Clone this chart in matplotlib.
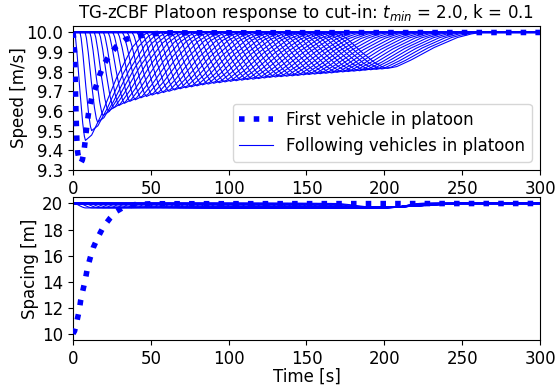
import numpy as np
import matplotlib
matplotlib.use("Agg")
from matplotlib import pyplot as plt

plt.rcParams["font.size"] = 12

# first vehicle (the one that cut in)
lead_t = [0, 0.5, 1, 1.5, 2, 2.5, 3, 4, 5, 6, 7, 8, 9, 10, 12, 15, 17, 20, 24, 28, 34, 41, 50, 60, 300]
lead_speed = [10, 9.97, 9.9, 9.74, 9.57, 9.45, 9.39, 9.345, 9.335, 9.35, 9.39, 9.46, 9.53, 9.59,
              9.665, 9.73, 9.78, 9.84, 9.89, 9.93, 9.965, 9.98, 9.992, 9.998, 10]
lead_gap_t = [0, 1, 2.6, 4, 5, 6.5, 8, 9.2, 11, 13, 16, 19.5, 24, 28, 33, 40, 50, 300]
lead_gap = [10, 10.2, 11.0, 11.8, 12.6, 13.4, 14.2, 15.0, 15.8, 16.6, 17.4, 18.2, 18.9, 19.4, 19.75,
            19.92, 19.98, 20]

# following vehicles: bottom of each speed dip
dip_time = [8, 12, 15.8, 19.3, 22.7, 26.1, 29.5, 33, 36.5, 40, 43.6, 47.2, 50.8, 54.4, 58, 61.6,
            65.2, 68.8, 72.4, 76, 79.6, 83.2, 86.8, 90.4, 94, 97.6, 101.2, 104.8, 108.4, 112, 115.6,
            119.2, 122.8, 126.4, 130, 133.6, 137.2, 140.8, 144.4, 148, 151.6, 155.2, 158.8, 162.4,
            166, 169.6, 173.2, 176.8, 180.4, 184, 187.6, 191.2, 194.8, 198.4, 202]
dip_speed = [9.45, 9.50, 9.543, 9.577, 9.60, 9.616, 9.628, 9.639, 9.649, 9.657, 9.667, 9.674, 9.681,
             9.687, 9.694, 9.70, 9.707, 9.713, 9.718, 9.723, 9.728, 9.733, 9.737, 9.741, 9.744,
             9.748, 9.751, 9.754, 9.757, 9.76, 9.762, 9.765, 9.768, 9.771, 9.773, 9.775, 9.777,
             9.779, 9.781, 9.784, 9.786, 9.788, 9.79, 9.792, 9.794, 9.797, 9.799, 9.801, 9.803,
             9.805, 9.808, 9.81, 9.812, 9.814, 9.817]
# time each follower leaves 10 m/s and time it is back at 10 m/s
brake_start = [1, 4.5, 7.8, 10.8, 13.7, 16.7, 19.6, 22.6, 25.6, 28.7, 31.8, 34.9, 38, 41.2, 44.3,
               47.4, 50.5, 53.6, 56.8, 59.9, 63, 66.1, 69.2, 72.4, 75.5, 78.6, 81.7, 84.8, 88, 91.1,
               94.2, 97.3, 100.4, 103.6, 106.7, 109.8, 112.9, 116, 119.2, 122.3, 125.4, 128.5,
               131.6, 134.8, 137.9, 141, 144.1, 147.2, 150.4, 153.5, 156.6, 159.7, 162.8, 166, 169]
recover_end = [48, 52.4, 56.5, 60.4, 64.2, 68, 71.7, 75.6, 79.5, 83.3, 87.3, 91.3, 95.2, 99.2,
               103.2, 107.2, 111.1, 115.1, 119.1, 123, 127, 131, 135, 138.9, 142.9, 146.9, 150.8,
               154.8, 158.8, 162.7, 166.7, 170.7, 174.6, 178.6, 182.6, 186.6, 190.5, 194.5, 198.5,
               202.4, 206.4, 210.4, 214.3, 218.3, 222.3, 226.3, 230.2, 234.2, 238.2, 242.1, 246.1,
               250.1, 254, 258, 262]

# common dip shape: share of the depth reached at a share of the fall / rise
fall_share = [0, 0.1, 0.25, 0.5, 0.75, 0.9, 1]
fall_depth = [0, 0.06, 0.22, 0.55, 0.84, 0.96, 1]
rise_share = [0, 0.1, 0.25, 0.5, 0.75, 0.9, 1]
rise_depth = [1, 0.95, 0.77, 0.42, 0.14, 0.04, 0]

# following vehicles: spacing (lowest value, hold level before recovery, time back at 20 m)
gap_low = [19.66, 19.67, 19.68, 19.68, 19.69, 19.69, 19.7, 19.7, 19.7, 19.7, 19.7, 19.69, 19.69,
           19.69, 19.68, 19.68, 19.68, 19.67, 19.67, 19.67, 19.66, 19.66, 19.66, 19.66, 19.65,
           19.65, 19.65, 19.65, 19.65, 19.64, 19.64, 19.64, 19.64, 19.64, 19.64, 19.63, 19.63,
           19.63, 19.63, 19.63, 19.63, 19.63, 19.63, 19.62, 19.62, 19.62, 19.62, 19.62, 19.62,
           19.62, 19.62, 19.62, 19.62, 19.62, 19.62]
gap_hold = 19.72
gap_hold_t = 208
gap_end = [222, 222.5, 223, 223.5, 224, 224.5, 225, 225.5, 226, 226.5, 227, 227.5, 228, 228.5,
           229, 229.5, 230, 230.5, 231, 231.5, 232, 232.5, 233, 233.5, 234, 234.5, 235, 235.5, 236,
           236.5, 237, 237.5, 238, 238.5, 239, 239.5, 240, 240.5, 241, 241.5, 242, 242.5, 243,
           243.5, 244, 244.5, 245, 245.5, 246, 246.5, 247, 247.5, 248, 248.5, 249]

fig = plt.figure(figsize=(5.55, 3.87), dpi=100)
ax1 = fig.add_axes([0.1315, 0.561, 0.8415, 0.372])
ax2 = fig.add_axes([0.1315, 0.121, 0.8415, 0.370])

fs = np.array(fall_share)
fd = np.array(fall_depth)
rs = np.array(rise_share)
rd = np.array(rise_depth)

for k in range(len(dip_time)):
    depth = 10 - dip_speed[k]
    t_fall = brake_start[k] + fs * (dip_time[k] - brake_start[k])
    t_rise = dip_time[k] + rs * (recover_end[k] - dip_time[k])
    t = np.concatenate([[0], t_fall, t_rise[1:], [300]])
    v = np.concatenate([[10], 10 - fd * depth, 10 - rd[1:] * depth, [10]])
    ax1.plot(t, v, color="b", lw=0.8,
             label="Following vehicles in platoon" if k == 0 else None)

    gdepth = 20 - gap_low[k]
    gt = np.concatenate([[0], t_fall, [gap_hold_t, gap_end[k], 300]])
    gv = np.concatenate([[20], 20 - fd * gdepth, [gap_hold, 20, 20]])
    ax2.plot(gt, gv, color="b", lw=0.8)

ax1.plot(lead_t, lead_speed, color="b", lw=4, ls=":", label="First vehicle in platoon", zorder=5)
ax2.plot(lead_gap_t, lead_gap, color="b", lw=4, ls=":", zorder=5)

h, l = ax1.get_legend_handles_labels()
ax1.legend(h[::-1], l[::-1], loc="lower right")

ax1.set_title("TG-zCBF Platoon response to cut-in: $t_{min}$ = 2.0, k = 0.1", fontsize=12)
ax1.set_ylabel("Speed [m/s]", labelpad=-1)
ax1.set_xlim(0, 300)
ax1.set_xticks([0, 50, 100, 150, 200, 250, 300])
ax1.set_yticks([9.3, 9.4, 9.5, 9.6, 9.7, 9.8, 9.9, 10.0])

ax2.set_ylabel("Spacing [m]", labelpad=2)
ax2.set_xlabel("Time [s]", labelpad=0)
ax2.set_xlim(0, 300)
ax2.set_xticks([0, 50, 100, 150, 200, 250, 300])
ax2.set_yticks([10, 12, 14, 16, 18, 20])

fig.savefig("out.png", dpi=100)
